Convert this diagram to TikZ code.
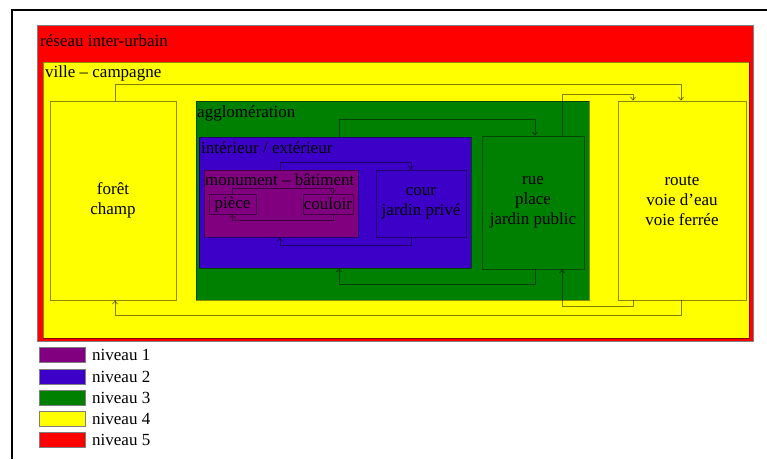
\documentclass[tikz,border=0pt]{standalone}
\usepackage{fontspec}
\setmainfont{Liberation Serif}
\usetikzlibrary{arrows.meta,calc}
\definecolor{lvA}{RGB}{128,0,128}
\definecolor{lvB}{RGB}{60,0,200}
\definecolor{lvC}{RGB}{0,128,0}
\definecolor{lvD}{RGB}{255,255,0}
\definecolor{lvE}{RGB}{255,0,0}
\begin{document}
\begin{tikzpicture}[x=1pt,y=-1pt,
  font=\fontsize{17}{20}\selectfont,
  box/.style={draw=black,draw opacity=0.45,line width=0.8pt,inner sep=0pt,align=center},
  title/.style={anchor=base west,inner sep=0pt},
  conn/.style={draw=black,draw opacity=0.5,line width=0.8pt},
  tip/.style={-{Straight Barb[length=3pt,width=5pt]}},
  legbox/.style={draw=gray,line width=0.8pt,minimum width=46pt,minimum height=15pt,inner sep=0pt},
  legtext/.style={anchor=west,inner sep=0pt}]
\useasboundingbox (0,0) rectangle (767,459);
% frame
\draw[line width=2pt] (767,10) -- (12,10) -- (12,459);
% containers
\node[box,draw=gray,draw opacity=1,fill=lvE,minimum width=716pt,minimum height=316pt] (reseau) at (395,183) {};
\node[title] (reseauT) at (40,46) {réseau inter-urbain};
\node[box,fill=lvD,minimum width=706pt,minimum height=276pt] (ville) at (396,200) {};
\node[title] (villeT) at (45,77) {ville – campagne};
\node[box,fill=lvD,minimum width=126pt,minimum height=199pt] (foret) at (113,200.5) {forêt\\champ};
\node[box,fill=lvC,minimum width=393pt,minimum height=199pt] (aggl) at (392.5,200.5) {};
\node[title] (agglT) at (197,117) {agglomération};
\node[box,fill=lvB,minimum width=272pt,minimum height=131pt] (inter) at (335,202.5) {};
\node[title] (interT) at (201,153) {intérieur / extérieur};
\node[box,fill=lvA,minimum width=154pt,minimum height=67pt] (monu) at (281,203.5) {};
\node[title] (monuT) at (205,185.5) {monument – bâtiment};
\node[box,fill=lvA,minimum width=47pt,minimum height=20pt] (piece) at (232.5,204) {pièce};
\node[box,fill=lvA,minimum width=50pt,minimum height=20pt] (couloir) at (328,204) {couloir};
\node[box,fill=lvB,minimum width=90pt,minimum height=67pt] (cour) at (421,203.5) {cour\\jardin privé};
\node[box,fill=lvC,minimum width=102pt,minimum height=133pt] (rue) at (533,202.5) {rue\\place\\jardin public};
\node[box,fill=lvD,minimum width=128pt,minimum height=199pt] (route) at (682,200.5) {route\\voie d’eau\\voie ferrée};
% levels of connectors
\coordinate (t1) at (0,84);
\coordinate (b1) at (0,315);
\coordinate (t2) at (0,94);
\coordinate (b2) at (0,306);
\coordinate (t3) at (0,119);
\coordinate (b3) at (0,284);
\coordinate (t4) at (0,162);
\coordinate (b4) at (0,245);
\coordinate (t5) at (0,188);
\coordinate (b5) at (0,220);
% foret <-> route
\draw[conn,tip] ([xshift=2pt]foret.north) -- ([xshift=2pt]foret.north |- t1) -| ([xshift=-1pt]route.north);
\draw[conn,tip] ([xshift=-1pt]route.south) -- ([xshift=-1pt]route.south |- b1) -| ([xshift=2pt]foret.south);
% rue <-> route
\draw[conn,tip] ([xshift=29pt]rue.north) -- ([xshift=29pt]rue.north |- t2) -| ([xshift=-49pt]route.north);
\draw[conn,tip] ([xshift=-49pt]route.south) -- ([xshift=-49pt]route.south |- b2) -| ([xshift=29pt]rue.south);
% inter <-> rue
\draw[conn,tip] ([xshift=4pt]inter.north) -- ([xshift=4pt]inter.north |- t3) -| ([xshift=2pt]rue.north);
\draw[conn,tip] ([xshift=2pt]rue.south) -- ([xshift=2pt]rue.south |- b3) -| ([xshift=4pt]inter.south);
% monument <-> cour
\draw[conn,tip] ([xshift=-1pt]monu.north) -- ([xshift=-1pt]monu.north |- t4) -| ([xshift=-10pt]cour.north);
\draw[conn,tip] ([xshift=-10pt]cour.south) -- ([xshift=-10pt]cour.south |- b4) -| ([xshift=-1pt]monu.south);
% piece <-> couloir
\draw[conn,tip] (piece.north) -- (piece.north |- t5) -| ([xshift=5pt]couloir.north);
\draw[conn,tip] ([xshift=5pt]couloir.south) -- ([xshift=5pt]couloir.south |- b5) -| (piece.south);
% legend
\node[legbox,fill=lvA] (l1) at (62,355.2) {};
\node[legtext] (l1t) at (92,355.2) {niveau 1};
\node[legbox,fill=lvB] (l2) at (62,376.5) {};
\node[legtext] (l2t) at (92,376.5) {niveau 2};
\node[legbox,fill=lvC] (l3) at (62,397.7) {};
\node[legtext] (l3t) at (92,397.7) {niveau 3};
\node[legbox,fill=lvD] (l4) at (62,419) {};
\node[legtext] (l4t) at (92,419) {niveau 4};
\node[legbox,fill=lvE] (l5) at (62,440.2) {};
\node[legtext] (l5t) at (92,440.2) {niveau 5};
\end{tikzpicture}
\end{document}
